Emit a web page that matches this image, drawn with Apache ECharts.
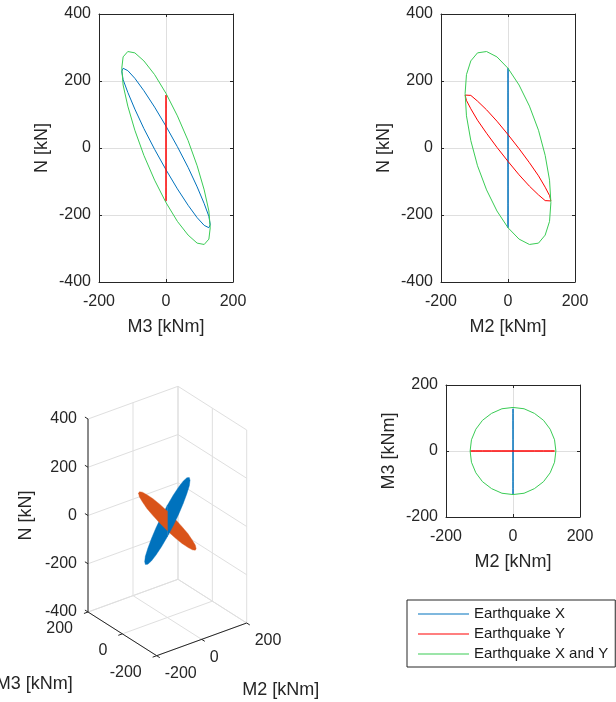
<!DOCTYPE html>
<html><head><meta charset="utf-8">
<script src="https://cdn.jsdelivr.net/npm/echarts@6/dist/echarts.min.js"></script>
<style>html,body{margin:0;padding:0;background:#fff}#c{width:616px;height:702px}</style>
</head><body><div id="c"></div>
<script>
// ---- data, one point every 15 deg of the loop ----
const eqX_M2 = [0,0,0,0,0,0,0,0,0,0,0,0,0,0,0,0,0,0,0,0,0,0,0,0];
const eqX_M3 = [-132,-128,-114,-93,-66,-34,0,34,66,93,114,128,132,128,114,93,66,34,0,-34,-66,-93,-114,-128];
const eqX_N  = [229,238,231,208,171,122,65,4,-58,-116,-166,-204,-229,-238,-231,-208,-171,-122,-65,-4,58,116,166,204];

const eqY_M2 = [-128,-124,-111,-91,-64,-33,0,33,64,91,111,124,128,124,111,91,64,33,0,-33,-64,-91,-111,-124];
const eqY_M3 = [0,0,0,0,0,0,0,0,0,0,0,0,0,0,0,0,0,0,0,0,0,0,0,0];
const eqY_N  = [158,163,157,140,114,80,40,-2,-44,-83,-117,-142,-158,-163,-157,-140,-114,-80,-40,2,44,83,117,142];

const eqXY_M2 = [0,-33,-64,-91,-111,-124,-128,-124,-111,-91,-64,-33,0,33,64,91,111,124,128,124,111,91,64,33];
const eqXY_M3 = [-132,-128,-114,-93,-66,-34,0,34,66,93,114,128,132,128,114,93,66,34,0,-34,-66,-93,-114,-128];
const eqXY_N  = [238,272,288,284,260,219,163,96,22,-53,-125,-188,-238,-272,-288,-284,-260,-219,-163,-96,-22,53,125,188];

const seriesNames = ['Earthquake X', 'Earthquake Y', 'Earthquake X and Y'];
const ticksM = [-200, 0, 200];
const ticksN = [-400, -200, 0, 200, 400];
const nameM2 = 'M2 [kNm]', nameM3 = 'M3 [kNm]', nameN = 'N [kN]';

// ---- styles ----
const FONT = "'Liberation Sans', Arial, Helvetica, sans-serif";
const TXT = '#262626';
const GRIDC = '#dfdfdf';
const C_X = '#0072BD', C_Y = '#FF0000', C_XY = '#3ACC55';
const F_X = '#0072BD', F_Y = '#D95319';

function closed(a, b) { const d = a.map((v, i) => [v, b[i]]); d.push(d[0]); return d; }

function bottomAxis(gi, name) {
  return { gridIndex: gi, type: 'value', min: -200, max: 200, interval: 200, position: 'bottom',
    name: name, nameLocation: 'middle', nameGap: 36,
    nameTextStyle: { fontSize: 18, color: TXT, fontFamily: FONT },
    axisLine: { show: true, onZero: false, lineStyle: { color: TXT, width: 1 } },
    axisTick: { show: true, inside: true, length: 3, lineStyle: { color: TXT } },
    axisLabel: { show: true, fontSize: 16, color: TXT, margin: 12, fontFamily: FONT },
    splitLine: { show: true, lineStyle: { color: GRIDC, width: 1 } } };
}
function leftAxis(gi, name, min, max) {
  return { gridIndex: gi, type: 'value', min: min, max: max, interval: 200, position: 'left',
    name: name, nameLocation: 'middle', nameGap: 48, nameRotate: 90,
    nameTextStyle: { fontSize: 18, color: TXT, fontFamily: FONT },
    axisLine: { show: true, onZero: false, lineStyle: { color: TXT, width: 1 } },
    axisTick: { show: true, inside: true, length: 3, lineStyle: { color: TXT } },
    axisLabel: { show: true, fontSize: 16, color: TXT, margin: 8, fontFamily: FONT },
    splitLine: { show: true, lineStyle: { color: GRIDC, width: 1 } } };
}
function mirrorAxis(gi, pos, min, max) {
  return { gridIndex: gi, type: 'value', min: min, max: max, interval: 200, position: pos,
    axisLine: { show: true, onZero: false, lineStyle: { color: TXT, width: 1 } },
    axisTick: { show: true, inside: true, length: 3, lineStyle: { color: TXT } },
    axisLabel: { show: false }, splitLine: { show: false } };
}

function line2d(name, color, xi, yi, data) {
  return { type: 'line', name: name, xAxisIndex: xi, yAxisIndex: yi, data: data,
    symbol: 'none', showSymbol: false, smooth: false, animation: false,
    lineStyle: { color: color, width: 1 }, itemStyle: { color: color }, z: 3 };
}

// ---- 3D view (orthographic projection onto the page) ----
const VIEW = { o: [167.35, 521], e2: [0.225, -0.08175], e3: [-0.17175, -0.10925], eN: [0, -0.24125] };
function proj(p) {
  return [VIEW.o[0] + p[0] * VIEW.e2[0] + p[1] * VIEW.e3[0] + p[2] * VIEW.eN[0],
          VIEW.o[1] + p[0] * VIEW.e2[1] + p[1] * VIEW.e3[1] + p[2] * VIEW.eN[1]];
}
const m2Lo = ticksM[0], m2Hi = ticksM[ticksM.length - 1];
const m3Lo = ticksM[0], m3Hi = ticksM[ticksM.length - 1];
const nLo = ticksN[0], nHi = ticksN[ticksN.length - 1];

const gridSegs = [];
ticksM.forEach(m2 => gridSegs.push([[m2, m3Hi, nLo], [m2, m3Hi, nHi]]));
ticksN.forEach(n => gridSegs.push([[m2Lo, m3Hi, n], [m2Hi, m3Hi, n]]));
ticksM.forEach(m3 => gridSegs.push([[m2Hi, m3, nLo], [m2Hi, m3, nHi]]));
ticksN.forEach(n => gridSegs.push([[m2Hi, m3Lo, n], [m2Hi, m3Hi, n]]));
ticksM.forEach(m2 => gridSegs.push([[m2, m3Lo, nLo], [m2, m3Hi, nLo]]));
ticksM.forEach(m3 => gridSegs.push([[m2Lo, m3, nLo], [m2Hi, m3, nLo]]));

const axisSegs = [
  [[m2Lo, m3Hi, nLo], [m2Lo, m3Hi, nHi]],
  [[m2Lo, m3Lo, nLo], [m2Lo, m3Hi, nLo]],
  [[m2Lo, m3Lo, nLo], [m2Hi, m3Lo, nLo]]
];
const TK = 18;
ticksN.forEach(n => axisSegs.push([[m2Lo, m3Hi, n], [m2Lo, m3Hi + TK, n]]));
ticksM.forEach(m3 => axisSegs.push([[m2Lo, m3, nLo], [m2Lo - TK, m3, nLo]]));
ticksM.forEach(m2 => axisSegs.push([[m2, m3Lo, nLo], [m2, m3Lo - TK, nLo]]));

const labels3 = [];
ticksN.forEach(n => labels3.push({ p: [m2Lo, m3Hi, n], t: String(n), dx: -11, dy: 0, a: 'right', s: 16, r: 0 }));
ticksM.forEach(m3 => labels3.push({ p: [m2Lo, m3, nLo], t: String(m3), dx: -15, dy: 17, a: 'right', s: 16, r: 0 }));
ticksM.forEach(m2 => labels3.push({ p: [m2, m3Lo, nLo], t: String(m2), dx: 8, dy: 18, a: 'left', s: 16, r: 0 }));
labels3.push({ p: [m2Lo, m3Hi, 0], t: nameN, dx: -62, dy: 0, a: 'center', s: 18, r: Math.PI / 2 });
labels3.push({ p: [m2Lo, 0, nLo], t: nameM3, dx: -88, dy: 50, a: 'center', s: 18, r: 0 });
labels3.push({ p: [0, m3Lo, nLo], t: nameM2, dx: 79, dy: 51, a: 'center', s: 18, r: 0 });

// filled loops split along their common line (M2 = M3 = 0) for depth order
const ptsX = eqX_M2.map((v, i) => [v, eqX_M3[i], eqX_N[i]]);
const ptsY = eqY_M2.map((v, i) => [v, eqY_M3[i], eqY_N[i]]);
const polys = [
  { pts: ptsX.filter(p => p[1] >= 0), c: F_X },
  { pts: ptsY.filter(p => p[0] >= 0), c: F_Y },
  { pts: ptsX.filter(p => p[1] <= 0), c: F_X },
  { pts: ptsY.filter(p => p[0] <= 0), c: F_Y }
];

function segSeries(segs, color, z) {
  return { type: 'custom', xAxisIndex: 3, yAxisIndex: 3, silent: true, animation: false, z: z,
    data: segs.map((s, i) => [i, 0]),
    renderItem: (params, api) => {
      const s = segs[params.dataIndex];
      const a = api.coord(proj(s[0])), b = api.coord(proj(s[1]));
      return { type: 'line', shape: { x1: a[0], y1: a[1], x2: b[0], y2: b[1] },
        style: { stroke: color, lineWidth: 1, fill: null } };
    } };
}

const chart = echarts.init(document.getElementById('c'), null, { renderer: 'canvas' });
const grids = [
  { left: 99, top: 14, width: 134, height: 268 },
  { left: 441, top: 14, width: 134, height: 268 },
  { left: 446, top: 385, width: 134, height: 132 },
  { left: 0, top: 0, width: 616, height: 702 }
].map(g => Object.assign({ containLabel: false, outerBoundsMode: 'none', show: false }, g));

const option = {
  animation: false,
  backgroundColor: '#ffffff',
  grid: grids,
  xAxis: [
    bottomAxis(0, nameM3), bottomAxis(1, nameM2), bottomAxis(2, nameM2),
    { gridIndex: 3, type: 'value', min: 0, max: 616, show: false },
    mirrorAxis(0, 'top', -200, 200), mirrorAxis(1, 'top', -200, 200), mirrorAxis(2, 'top', -200, 200)
  ],
  yAxis: [
    leftAxis(0, nameN, -400, 400), leftAxis(1, nameN, -400, 400), leftAxis(2, nameM3, -200, 200),
    { gridIndex: 3, type: 'value', min: 0, max: 702, inverse: true, show: false },
    mirrorAxis(0, 'right', -400, 400), mirrorAxis(1, 'right', -400, 400), mirrorAxis(2, 'right', -200, 200)
  ],
  legend: {
    data: seriesNames.map(n => ({ name: n, icon: 'rect' })), orient: 'vertical', left: 407, top: 600,
    padding: [5, 7, 4, 11], itemWidth: 51, itemHeight: 1, itemGap: 2,
    textStyle: { fontSize: 15, color: '#1a1a1a', fontFamily: FONT, lineHeight: 18 },
    borderColor: '#262626', borderWidth: 1, backgroundColor: '#ffffff', selectedMode: false
  },
  series: [
    line2d(seriesNames[0], C_X, 0, 0, closed(eqX_M3, eqX_N)),
    line2d(seriesNames[1], C_Y, 0, 0, closed(eqY_M3, eqY_N)),
    line2d(seriesNames[2], C_XY, 0, 0, closed(eqXY_M3, eqXY_N)),
    line2d(seriesNames[0], C_X, 1, 1, closed(eqX_M2, eqX_N)),
    line2d(seriesNames[1], C_Y, 1, 1, closed(eqY_M2, eqY_N)),
    line2d(seriesNames[2], C_XY, 1, 1, closed(eqXY_M2, eqXY_N)),
    line2d(seriesNames[0], C_X, 2, 2, closed(eqX_M2, eqX_M3)),
    line2d(seriesNames[1], C_Y, 2, 2, closed(eqY_M2, eqY_M3)),
    line2d(seriesNames[2], C_XY, 2, 2, closed(eqXY_M2, eqXY_M3)),
    segSeries(gridSegs, GRIDC, 1),
    segSeries(axisSegs, TXT, 2),
    { type: 'custom', name: 'fill3d', xAxisIndex: 3, yAxisIndex: 3, silent: true, animation: false, z: 3,
      data: polys.map((p, i) => [i, 0]),
      renderItem: (params, api) => {
        const p = polys[params.dataIndex];
        return { type: 'polygon', shape: { points: p.pts.map(q => api.coord(proj(q))) },
          style: { fill: p.c, stroke: p.c, lineWidth: 0.4 } };
      } },
    { type: 'custom', name: 'labels3d', xAxisIndex: 3, yAxisIndex: 3, silent: true, animation: false, z: 4,
      data: labels3.map((l, i) => [i, 0]),
      renderItem: (params, api) => {
        const l = labels3[params.dataIndex];
        const c = api.coord(proj(l.p));
        return { type: 'text', x: c[0] + l.dx, y: c[1] + l.dy, rotation: l.r,
          style: { text: l.t, fill: TXT, fontSize: l.s, fontFamily: FONT, align: l.a, verticalAlign: 'middle' } };
      } }
  ]
};
chart.setOption(option);
</script>
</body></html>
